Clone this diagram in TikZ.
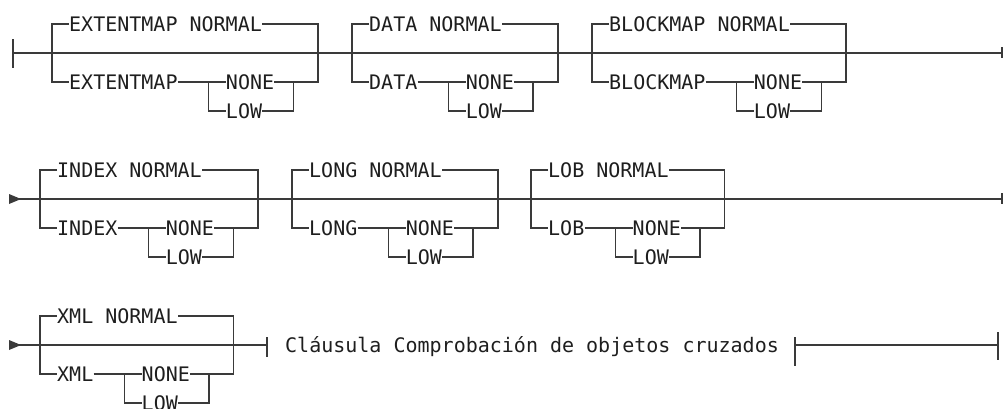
\documentclass[tikz,border=0pt]{standalone}
\usepackage{fontspec}
\setmonofont{DejaVu Sans Mono}
\usetikzlibrary{calc}
\definecolor{railgray}{RGB}{58,58,58}
\definecolor{railtext}{RGB}{30,30,30}
% one optional group: keyword NORMAL / keyword NONE|LOW
\newcommand{\railopt}[4]{%
  \coordinate (#1l) at (#2,#3);
  \coordinate (#1lt) at ($(#1l)+(0,-29)$);
  \coordinate (#1lb) at ($(#1l)+(0,29)$);
  \node[kw] (#1n) at ($(#1lt)+(17,0)$) {#4 NORMAL};
  \node[kw] (#1k) at ($(#1lb)+(17,0)$) {#4};
  \coordinate (#1il) at ($(#1k.east)+(31,0)$);
  \node[kw] (#1none) at ($(#1il)+(17,0)$) {NONE};
  \node[kw] (#1low) at ($(#1il)+(17,29)$) {LOW};
  \coordinate (#1ir) at ($(#1none.east)+(19,0)$);
  \coordinate (#1r) at ($(#1n.east)+(56,58)$);
  \draw[rail] (#1n.west) -- (#1lt) -- (#1lb) -- (#1k.west);
  \draw[rail] (#1k.east) -- (#1none.west);
  \draw[rail] (#1il) |- (#1low.west);
  \draw[rail] (#1low.east) -| (#1ir);
  \draw[rail] (#1none.east) -- (#1r) |- (#1n.east);
}
\begin{document}
\begin{tikzpicture}[x=1pt,y=-1pt,font=\ttfamily\fontsize{20}{24}\selectfont,
    kw/.style={inner sep=0pt,anchor=west,text height=14.6pt,text depth=0pt,text=railtext},
    rail/.style={draw=railgray,line width=1.3pt}]
  \useasboundingbox (0,0) rectangle (1003,408);
  % row 1
  \coordinate (r1s) at (13,53);
  \coordinate (r1e) at (1002,53);
  \draw[rail] (r1s) -- (r1e);
  \draw[rail] ($(r1s)+(0,-14)$) -- ($(r1s)+(0,15)$);
  \draw[rail,line width=2.6pt] ($(r1s)+(9,0)$) -- ($(r1s)+(15,0)$);
  \draw[rail] ($(r1e)+(0,-6)$) -- ($(r1e)+(0,5)$);
  \railopt{ext}{52}{53}{EXTENTMAP}
  \railopt{dat}{352}{53}{DATA}
  \railopt{blk}{592}{53}{BLOCKMAP}
  % row 2
  \coordinate (r2s) at (9,199);
  \coordinate (r2e) at (1002,199);
  \fill[railgray] (r2s) ++(0,-5) -- ++(12,5) -- ++(-12,5) -- cycle;
  \draw[rail] (r2s) -- (r2e);
  \draw[rail] ($(r2e)+(0,-6)$) -- ($(r2e)+(0,5)$);
  \railopt{idx}{40}{199}{INDEX}
  \railopt{lng}{292}{199}{LONG}
  \railopt{lob}{531}{199}{LOB}
  % row 3
  \coordinate (r3s) at (9,345);
  \fill[railgray] (r3s) ++(0,-5) -- ++(12,5) -- ++(-12,5) -- cycle;
  \railopt{xml}{40}{345}{XML}
  \coordinate (cl) at (267,345);
  \node[kw] (cross) at (285,345) {Cláusula Comprobación de objetos cruzados};
  \coordinate (cr) at (795,345);
  \coordinate (r3e) at (998,345);
  \draw[rail] (r3s) -- (cl);
  \draw[rail] ($(cl)+(0,-8)$) -- ($(cl)+(0,12)$);
  \draw[rail] ($(cr)+(0,-8)$) -- ($(cr)+(0,21)$);
  \draw[rail] (cr) -- (r3e);
  \draw[rail,line width=2.6pt] ($(cr)+(5,0)$) -- ($(cr)+(28,0)$);
  \draw[rail] ($(r3e)+(0,-13)$) -- ($(r3e)+(0,15)$);
\end{tikzpicture}
\end{document}
